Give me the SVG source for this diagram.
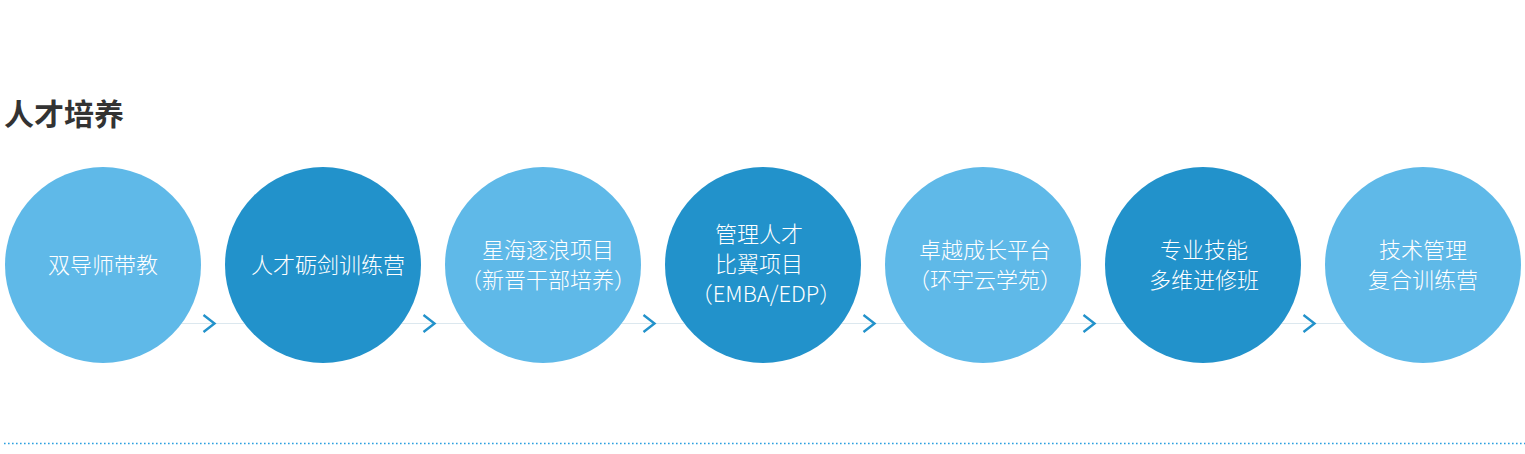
<svg xmlns="http://www.w3.org/2000/svg" width="1525" height="454" viewBox="0 0 1525 454">
<style>
.light{fill:#5fb9e8}
.dark{fill:#2292cb}
.lbl{font-family:"Noto Sans CJK SC","Noto Sans",sans-serif;font-size:22px;font-weight:300;fill:#ffffff;text-anchor:middle}
.title{font-family:"Noto Sans CJK SC","Noto Sans",sans-serif;font-size:30px;font-weight:700;fill:#333333}
.chev{fill:none;stroke:#2292cb;stroke-width:2.4;stroke-linecap:butt;stroke-linejoin:miter}
</style>
<rect width="1525" height="454" fill="#ffffff"/>
<text class="title" x="4" y="125">人才培养</text>
<g id="connectors">
<line x1="103" y1="323.5" x2="1423" y2="323.5" stroke="#dce8ef" stroke-width="1"/>
<polyline class="chev" points="203.5,315 214.5,323.5 203.5,332"/>
<polyline class="chev" points="423.5,315 434.5,323.5 423.5,332"/>
<polyline class="chev" points="643.5,315 654.5,323.5 643.5,332"/>
<polyline class="chev" points="863.5,315 874.5,323.5 863.5,332"/>
<polyline class="chev" points="1083.5,315 1094.5,323.5 1083.5,332"/>
<polyline class="chev" points="1303.5,315 1314.5,323.5 1303.5,332"/>
</g>
<g id="node1"><circle class="light" cx="103" cy="265" r="98"/><text class="lbl" x="103" y="273">双导师带教</text></g>
<g id="node2"><circle class="dark" cx="323" cy="265" r="98"/><text class="lbl" x="328" y="273">人才砺剑训练营</text></g>
<g id="node3"><circle class="light" cx="543" cy="265" r="98"/><text class="lbl" x="548" y="258">星海逐浪项目</text><text class="lbl" x="548" y="288">（新晋干部培养）</text></g>
<g id="node4"><circle class="dark" cx="763" cy="265" r="98"/><text class="lbl" x="759" y="241.5">管理人才</text><text class="lbl" x="759" y="271.5">比翼项目</text><text class="lbl" x="766" y="302">（EMBA/EDP）</text></g>
<g id="node5"><circle class="light" cx="983" cy="265" r="98"/><text class="lbl" x="985" y="258">卓越成长平台</text><text class="lbl" x="985" y="288">（环宇云学苑）</text></g>
<g id="node6"><circle class="dark" cx="1203" cy="265" r="98"/><text class="lbl" x="1204" y="258">专业技能</text><text class="lbl" x="1204" y="288">多维进修班</text></g>
<g id="node7"><circle class="light" cx="1423" cy="265" r="98"/><text class="lbl" x="1423" y="258">技术管理</text><text class="lbl" x="1423" y="288">复合训练营</text></g>
<line x1="4" y1="443.5" x2="1525" y2="443.5" stroke="#2a9fdf" stroke-width="1.3" stroke-dasharray="1.6 2.4"/>
</svg>
